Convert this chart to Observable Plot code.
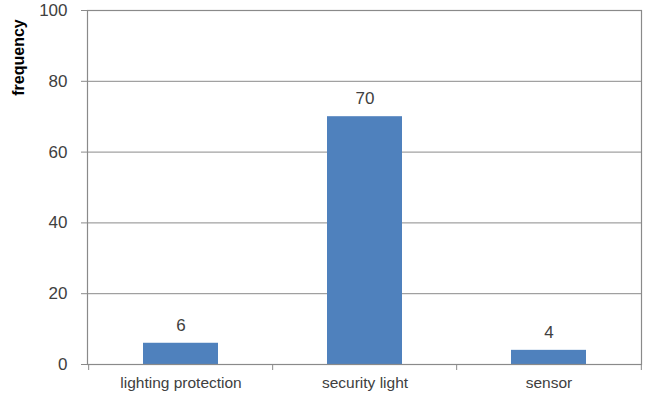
<!DOCTYPE html>
<html>
<head>
<meta charset="utf-8">
<script src="https://cdn.jsdelivr.net/npm/d3@7"></script>
<script src="https://cdn.jsdelivr.net/npm/@observablehq/plot@0.6"></script>
<style>
  html, body { margin: 0; padding: 0; background: #fff; }
</style>
</head>
<body>
<div id="chart"></div>
<script>
const categories = ["lighting protection", "security light", "sensor"];
const frequency = [6, 70, 4];
const yTicks = [0, 20, 40, 60, 80, 100];
const yLabel = "frequency";

const data = categories.map((c, i) => ({category: c, value: frequency[i]}));

const W = 653, H = 403;
const mL = 87, mR = 12, mT = 10, mB = 39;
const step = (W - mL - mR) / categories.length;
const font = "'Liberation Sans', Arial, sans-serif";
const grid = "#8a8a8a";

const chart = Plot.plot({
  width: W,
  height: H,
  marginLeft: mL,
  marginRight: mR,
  marginTop: mT,
  marginBottom: mB,
  style: {fontFamily: font, background: "#fff", overflow: "visible"},
  x: {domain: categories, paddingInner: 0.595, paddingOuter: 0.2975, align: 0.5},
  y: {domain: [0, 100]},
  marks: [
    Plot.ruleY(yTicks, {stroke: grid, strokeWidth: 1}),
    Plot.barY(data, {x: "category", y: "value", fill: "#4f81bd"}),
    Plot.frame({stroke: grid, strokeWidth: 1.2}),
    Plot.axisY({ticks: yTicks, tickSize: 6, tickPadding: 14, label: null, fontSize: 17, stroke: grid, fill: "#404040"}),
    Plot.axisX({tickSize: 0, tickPadding: 12, label: null, fontSize: 15.5, fill: "#404040"}),
    Plot.ruleX(categories, {x: d => d, y1: 0, y2: 0, dx: -step / 2, insetBottom: -6, stroke: grid}),
    Plot.ruleX(categories.slice(-1), {x: d => d, y1: 0, y2: 0, dx: step / 2, insetBottom: -6, stroke: grid}),
    Plot.text(data, {x: "category", y: "value", text: d => String(d.value), dy: -18, lineAnchor: "middle", fontSize: 17, fill: "#404040"}),
    Plot.text([yLabel], {frameAnchor: "top-left", text: d => d, rotate: -90, dx: -69, dy: 47, textAnchor: "middle", lineAnchor: "middle", fontWeight: "bold", fontSize: 16, fill: "#000"})
  ]
});
document.getElementById("chart").append(chart);
</script>
</body>
</html>
